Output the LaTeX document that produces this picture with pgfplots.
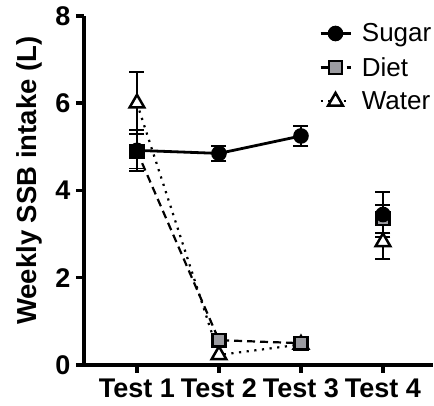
\documentclass[border=0pt]{standalone}
\usepackage{pgfplots}
\pgfplotsset{compat=1.18}
\usepackage{fontspec}
\setmainfont{Liberation Sans}
\definecolor{dietgray}{RGB}{155,155,160}
\begin{document}
\begin{tikzpicture}
\begin{axis}[
  scale only axis, width=349pt, height=349pt,
  xmin=0.354, xmax=4.61, ymin=0, ymax=8,
  axis x line=bottom, axis y line=left,
  axis line style={line width=3.5pt, -},
  xtick={1,2,3,4}, xticklabels={Test 1,Test 2,Test 3,Test 4},
  ytick={0,2,4,6,8},
  tick align=outside, major tick length=8pt,
  every tick/.style={line width=3.5pt, black},
  tick label style={font=\bfseries\fontsize{27}{30}\selectfont},
  yticklabel style={xshift=-2pt},
  xticklabel style={yshift=-2pt},
  /pgf/number format/assume math mode=true,
  ylabel={Weekly SSB intake (L)},
  ylabel style={font=\bfseries\fontsize{27.5}{30}\selectfont, at={(axis description cs:-0.157,0.528)}, anchor=center},
  legend cell align=left,
  legend style={draw=none, fill=none, at={(1.01,0.99)}, anchor=north east,
    font=\fontsize{26}{29}\selectfont, row sep=10pt,
    /tikz/every odd column/.append style={column sep=8pt}},
  legend image code/.code={\draw[mark repeat=2,mark phase=2,#1] plot coordinates {(0pt,0pt)(15pt,0pt)(30pt,0pt)};},
  reverse legend,
  clip=false,
]
% error bars (drawn first, behind markers)
\addplot[forget plot, only marks, mark=none,
  error bars/.cd, y dir=both, y explicit,
  error bar style={draw=black, solid, line width=1.6pt},
  error mark options={draw=black, solid, rotate=90, mark size=7.5pt, line width=1.6pt}]
  coordinates {
  (1,6.00) +- (0,0.72)
  (4,2.82) +- (0,0.39)
  (1,4.90) +- (0,0.40)
  (4,3.35) +- (0,0.32)
  (1,4.92) +- (0,0.47)
  (2,4.85) +- (0,0.17)
  (3,5.25) +- (0,0.23)
  (4,3.45) +- (0,0.52)
  };
% Water
\addplot[black, line width=2.2pt, dash pattern=on 2.2pt off 5.5pt,
  mark=triangle*, mark size=8.5pt,
  mark options={solid, fill=white, draw=black, line width=2.5pt}]
  coordinates {(1,6.00) (2,0.23) (3,0.47)};
\addlegendentry{Water}
% Diet
\addplot[black, line width=2.2pt, dash pattern=on 8pt off 5pt,
  mark=square*, mark size=6.3pt,
  mark options={solid, fill=dietgray, draw=black, line width=2.5pt}]
  coordinates {(1,4.90) (2,0.57) (3,0.50)};
\addlegendentry{Diet}
% Sugar
\addplot[black, line width=2.8pt, solid,
  mark=*, mark size=6.8pt,
  mark options={solid, fill=black, draw=black, line width=2pt}]
  coordinates {(1,4.92) (2,4.85) (3,5.25)};
\addlegendentry{Sugar}
% Test 4 (not connected)
\addplot[forget plot, only marks, mark=triangle*, mark size=8.5pt,
  mark options={solid, fill=white, draw=black, line width=2.5pt}]
  coordinates {(4,2.82)};
\addplot[forget plot, only marks, mark=square*, mark size=6.3pt,
  mark options={solid, fill=dietgray, draw=black, line width=2.5pt}]
  coordinates {(4,3.35)};
\addplot[forget plot, only marks, mark=*, mark size=6.8pt,
  mark options={solid, fill=black, draw=black, line width=2pt}]
  coordinates {(4,3.45)};
\end{axis}
\pgfresetboundingbox
\path (current axis.south west) ++(-84pt,-41pt) rectangle ++(434pt,406pt);
\end{tikzpicture}
\end{document}
